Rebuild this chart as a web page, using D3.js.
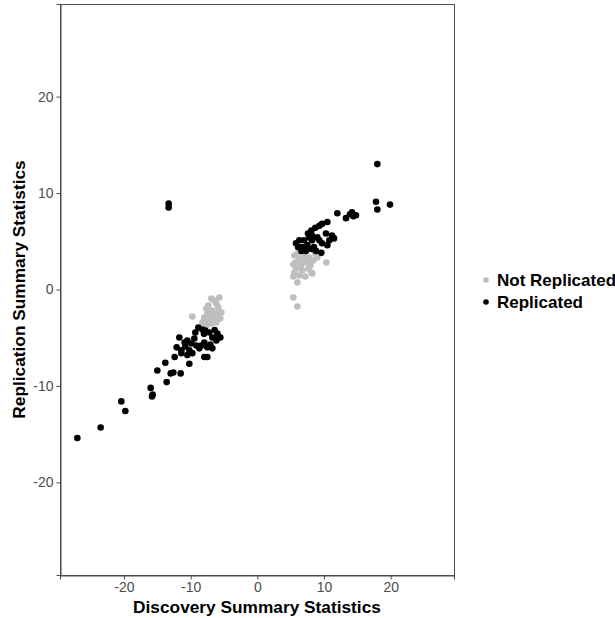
<!DOCTYPE html>
<html>
<head>
<meta charset="utf-8">
<script src="https://cdn.jsdelivr.net/npm/d3@7"></script>
<style>
  body { margin: 0; background: #fff; }
  text { font-family: "Liberation Sans", Arial, sans-serif; }
</style>
</head>
<body>
<svg id="chart"></svg>
<script>
// legend groups
const groups = ["Not Replicated", "Replicated"];
const groupColors = ["#bebebe", "#000000"];

// not replicated points (grey)
const notX = [5.55, 6.3, 7.05, 7.8, 5.7, 6.6, 7.5, 8.4, 5.85, 6.75, 7.65, 6.3, 7.2, 8.1, 5.55, 9.0, 10.35, 8.25, 5.4, 6.0, 5.4, 6.0, 8.7, 6.15, 6.9, 5.4, 7.95, 6.45, 7.05,
  -5.7, -6.9, -6.15, -7.65, -6.75, -6.0, -9.75, -7.95, -7.2, -6.15, -8.25, -6.9, -7.5, -6.45, -5.55, -7.65, -6.6, -7.35, -5.85, -5.4, -7.2, -6.3, -8.0];
const notY = [3.52, 3.21, 3.42, 3.32, 2.8, 2.59, 2.8, 3.0, 2.18, 1.97, 2.18, 1.45, 1.35, 1.76, 1.76, 3.32, 2.8, 1.66, 1.35, 0.73, -0.83, -1.76, 3.73, 3.83, 4.04, 2.59, 2.49, 2.2, 2.9,
  -0.83, -0.93, -1.45, -1.97, -2.18, -2.49, -2.8, -2.9, -3.2, -3.42, -3.42, -3.52, -2.49, -1.14, -3.0, -3.73, -2.8, -1.66, -1.87, -2.4, -2.6, -3.1, -3.3];

// replicated points (black)
const repX = [-27.0, -23.5, -20.4, -19.8, -16.0, -15.8, -15.7, -15.0, -13.8, -13.6, -13.0, -12.6, -11.5, -13.3, -13.3,
  -8.85, -8.25, -7.2, -6.0, -6.75, -6.15, -11.7, -10.9, -10.5, -9.9, -9.45, -9.15, -8.4, -7.95, -7.5, -6.75, -8.7, -12.1, -11.4, -10.2, -9.75, -10.5, -11.4, -12.4, -7.95, -7.5, -10.2,
  -7.8, -5.85, -7.05, -9.3, -10.8, -5.55, -6.4, -8.0,
  12.0, 13.9, 13.3, 14.4, 14.2, 10.5, 9.7, 9.3, 8.7, 8.1, 7.6, 7.8, 8.2, 9.0, 10.3, 11.2, 10.8, 11.5,
  9.3, 8.2, 7.0, 6.3, 5.8, 6.1, 6.7, 7.5, 8.1, 8.8, 9.6, 7.3, 6.6, 8.5, 9.7, 10.5,
  18.0, 17.8, 18.0, 19.9, 14.8];
const repY = [-15.4, -14.3, -11.6, -12.6, -10.2, -11.1, -10.9, -8.4, -7.6, -9.6, -8.7, -8.6, -8.7, 8.9, 8.5,
  -3.94, -4.15, -4.46, -4.56, -4.97, -5.28, -4.97, -5.49, -5.28, -5.6, -5.08, -5.8, -5.8, -5.49, -6.0, -6.1, -6.1, -6.0, -6.3, -6.3, -6.6, -6.8, -6.6, -7.0, -7.0, -7.0, -7.7,
  -4.25, -4.87, -5.7, -4.46, -5.9, -4.97, -4.2, -4.6,
  7.9, 7.8, 7.4, 7.6, 8.0, 7.0, 6.8, 6.6, 6.4, 6.1, 5.8, 5.4, 5.6, 5.4, 5.8, 5.6, 5.1, 5.3,
  5.1, 5.1, 5.1, 5.1, 4.8, 4.4, 4.4, 4.6, 4.2, 4.0, 3.8, 4.0, 4.0, 4.4, 4.8, 4.6,
  13.0, 9.1, 8.3, 8.8, 7.7];

// axis ticks
const ticks = [-20, -10, 0, 10, 20];

const width = 615;
const height = 618;
const margin = { top: 4, right: 161, bottom: 43, left: 60 };

const svg = d3.select("#chart")
  .attr("width", width)
  .attr("height", height);

const x = d3.scaleLinear()
  .domain([-29.6, 29.5])
  .range([margin.left, width - margin.right]);

const y = d3.scaleLinear()
  .domain([-29.6, 29.6])
  .range([height - margin.bottom, margin.top]);

const points = [];
notX.forEach((v, i) => points.push({ x: v, y: notY[i], g: 0 }));
repX.forEach((v, i) => points.push({ x: v, y: repY[i], g: 1 }));

// panel border
svg.append("rect")
  .attr("x", margin.left + 0.5)
  .attr("y", margin.top + 0.5)
  .attr("width", width - margin.right - margin.left)
  .attr("height", height - margin.bottom - margin.top)
  .attr("fill", "none")
  .attr("stroke", "#4d4d4d")
  .attr("stroke-width", 1);

svg.append("g")
  .selectAll("circle")
  .data(points)
  .join("circle")
  .attr("cx", d => x(d.x))
  .attr("cy", d => y(d.y))
  .attr("r", 3.3)
  .attr("fill", d => groupColors[d.g]);

// axes (plain hyphen minus like the original)
const fmt = d => String(d);
const xAxis = svg.append("g")
  .attr("transform", `translate(0,${height - margin.bottom + 0.5})`)
  .call(d3.axisBottom(x).tickValues(ticks).tickFormat(fmt).tickSize(4).tickPadding(3));
const yAxis = svg.append("g")
  .attr("transform", `translate(${margin.left + 0.5},0)`)
  .call(d3.axisLeft(y).tickValues(ticks).tickFormat(fmt).tickSize(4).tickPadding(3));

[xAxis, yAxis].forEach(a => {
  a.select(".domain").attr("stroke", "#4d4d4d");
  a.selectAll(".tick line").attr("stroke", "#4d4d4d");
  a.selectAll(".tick text")
    .attr("fill", "#4d4d4d")
    .style("font-size", "14px")
    .style("font-family", "'Liberation Sans', Arial, sans-serif");
});

// axis titles
svg.append("text")
  .attr("x", (margin.left + width - margin.right) / 2)
  .attr("y", 613)
  .attr("text-anchor", "middle")
  .style("font-size", "17.3px")
  .style("font-weight", "bold")
  .text("Discovery Summary Statistics");

svg.append("text")
  .attr("transform", `translate(25,${(margin.top + height - margin.bottom) / 2}) rotate(-90)`)
  .attr("text-anchor", "middle")
  .style("font-size", "17.3px")
  .style("font-weight", "bold")
  .text("Replication Summary Statistics");

// legend
const legend = svg.append("g")
  .selectAll("g")
  .data(groups)
  .join("g")
  .attr("transform", (d, i) => `translate(486,${280 + i * 22})`);

legend.append("circle")
  .attr("r", 2.8)
  .attr("fill", (d, i) => groupColors[i]);

legend.append("text")
  .attr("x", 11)
  .attr("y", 6)
  .style("font-size", "17px")
  .style("font-weight", "bold")
  .text(d => d);
</script>
</body>
</html>
